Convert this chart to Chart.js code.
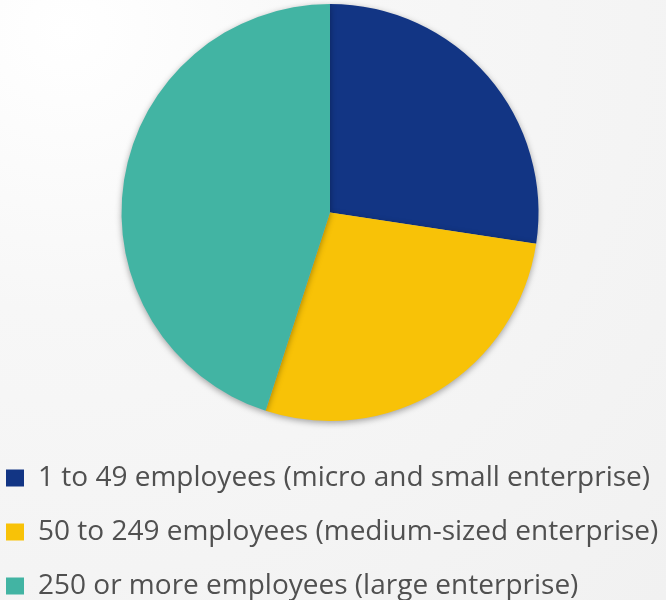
<!DOCTYPE html>
<html>
<head>
<meta charset="utf-8">
<script src="https://cdn.jsdelivr.net/npm/chart.js@4.4.1/dist/chart.umd.min.js"></script>
<style>
  html, body { margin: 0; padding: 0; }
  body {
    width: 666px; height: 600px; overflow: hidden;
    background: radial-gradient(ellipse at 10% 5%, #ffffff 0%, #f7f7f7 35%, #f1f1f1 100%);
  }
  #wrap { width: 666px; height: 600px; position: relative; }
</style>
</head>
<body>
<div id="wrap"><canvas id="chart-size"></canvas></div>
<script>
// Enterprise size shares (percent)
const labels = [
    '1 to 49 employees (micro and small enterprise)',
    '50 to 249 employees (medium-sized enterprise)',
    '250 or more employees (large enterprise)'
];
const shares = [27.4, 27.6, 45.0];
const colors = ['#123584', '#f8c207', '#42b4a3'];

// soft drop shadow under the pie
const pieShadow = {
    id: 'pieShadow',
    beforeDatasetsDraw(chart) {
        const c = chart.ctx;
        c.save();
        c.shadowColor = 'rgba(0,0,0,0.35)';
        c.shadowBlur = 6;
        c.shadowOffsetX = 0;
        c.shadowOffsetY = 2;
    },
    afterDatasetsDraw(chart) {
        chart.ctx.restore();
    }
};

const ctx = document.getElementById('chart-size');
new Chart(ctx, {
    type: 'pie',
    data: {
        labels: labels,
        datasets: [{
            data: shares,
            backgroundColor: colors,
            borderWidth: 0
        }]
    },
    options: {
        responsive: true,
        maintainAspectRatio: false,
        animation: false,
        layout: { padding: { top: 4, left: -20, right: 6, bottom: -10 } },
        plugins: {
            tooltip: { enabled: false },
            legend: {
                position: 'bottom',
                align: 'start',
                title: {
                    display: true,
                    text: ' ',
                    font: { size: 10, lineHeight: 1.2 },
                    padding: { top: 0, bottom: 5 }
                },
                labels: {
                    color: '#505050',
                    boxWidth: 18,
                    boxHeight: 17,
                    padding: 26,
                    font: { family: 'Open Sans', size: 28 }
                }
            }
        }
    },
    plugins: [pieShadow]
});
</script>
</body>
</html>
